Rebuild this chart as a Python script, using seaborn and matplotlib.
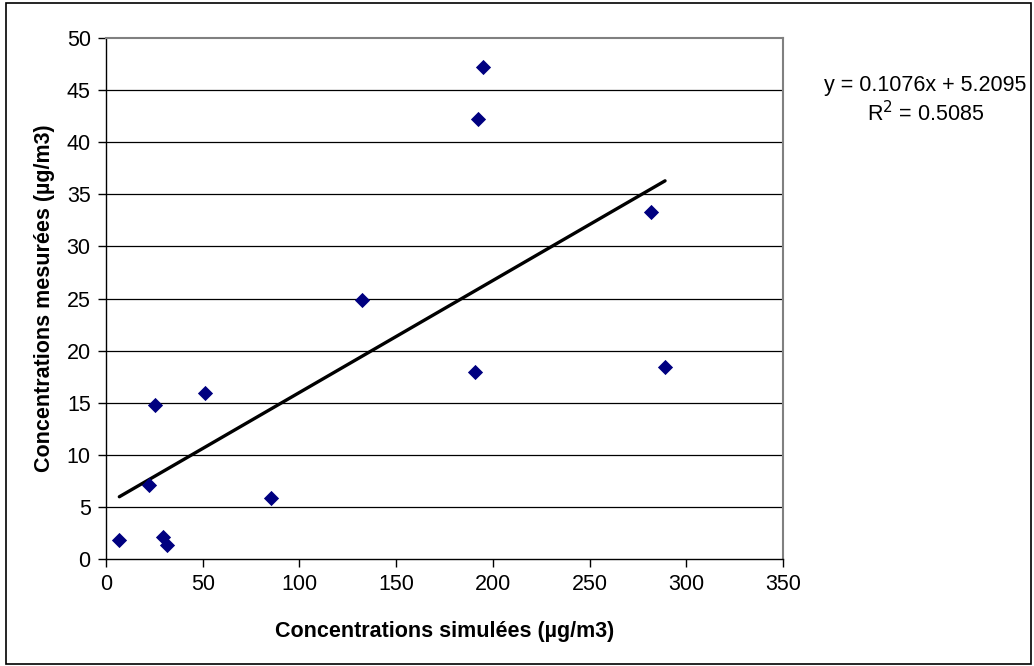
import matplotlib
matplotlib.use("Agg")
import matplotlib.pyplot as plt
import seaborn as sns
import numpy as np
import pandas as pd
from matplotlib.patches import Rectangle

# Data
simulees = [6.9, 22.2, 25.3, 29.5, 31.5, 51.2, 85.3, 132.4, 190.8, 192.3, 194.9, 281.8, 289.0]
mesurees = [1.80, 7.11, 14.74, 2.06, 1.32, 15.89, 5.83, 24.85, 17.93, 42.25, 47.26, 33.33, 18.44]
slope = 0.1076
intercept = 5.2095
r2 = 0.5085
x_ticks = [0, 50, 100, 150, 200, 250, 300, 350]
y_ticks = [0, 5, 10, 15, 20, 25, 30, 35, 40, 45, 50]

df = pd.DataFrame({"sim": simulees, "mes": mesurees})

sns.set_theme(style="white")
plt.rcParams['font.family'] = ['Liberation Sans', 'DejaVu Sans']

FS = 15.5

fig = plt.figure(figsize=(10.34, 6.66), dpi=100)
ax = fig.add_axes([0.1025, 0.1611, 0.6548, 0.7814])

# gridlines
for yv in y_ticks[1:-1]:
    ax.axhline(yv, color="black", lw=0.9, zorder=1)

# trend line
xl = np.array([min(simulees), max(simulees)])
line_df = pd.DataFrame({"x": xl, "y": slope * xl + intercept})
sns.lineplot(data=line_df, x="x", y="y", color="black", lw=2.4, ax=ax, zorder=2)

sns.scatterplot(data=df, x="sim", y="mes", marker="D", s=60, color="#000080",
                edgecolor="#000080", linewidth=0, ax=ax, zorder=3)

ax.set_xlim(0, 350)
ax.set_ylim(0, 50)
ax.set_xticks(x_ticks)
ax.set_yticks(y_ticks)
ax.tick_params(axis="both", which="both", direction="out", length=6, width=1,
               color="black", labelsize=FS, labelcolor="black", pad=5,
               left=True, bottom=True)
for s in ["left", "bottom"]:
    ax.spines[s].set_color("black")
    ax.spines[s].set_linewidth(1.0)
for s in ["top", "right"]:
    ax.spines[s].set_color("#808080")
    ax.spines[s].set_linewidth(1.5)

ax.set_xlabel("Concentrations simulées (µg/m3)", fontsize=FS, fontweight="bold",
              color="black", labelpad=19)
ax.set_ylabel("Concentrations mesurées (µg/m3)", fontsize=FS, fontweight="bold",
              color="black", labelpad=8)

fig.text(0.895, 1 - 85 / 666, f"y = {slope}x + {intercept}", ha="center", va="center",
         fontsize=FS, color="black")
fig.text(0.895, 1 - 114 / 666, f"R$^2$ = {r2}", ha="center", va="center",
         fontsize=FS, color="black")

fig.patches.append(Rectangle((6 / 1034, 1 - 664 / 666), 1025 / 1034, 661 / 666,
                             transform=fig.transFigure, fill=False,
                             edgecolor="black", lw=1.2))

fig.savefig("out.png", dpi=100)
